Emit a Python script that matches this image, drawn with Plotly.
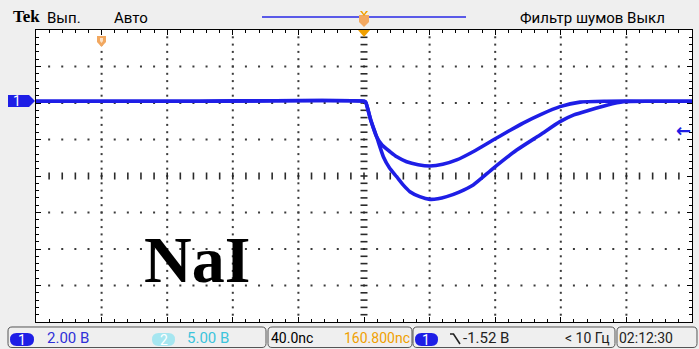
import plotly.graph_objects as go

# Scope settings
T_DIV = 40.0        # ns / div
V_DIV = 2.00        # V / div (channel 1)
TRIG_LEVEL = -1.52  # V
T_RANGE = [-200.0, 200.0]
V_RANGE = [-12.0, 4.0]

# Pulse A (smaller amplitude), time in ns from trigger, amplitude in V
t_pulse_a = [-200, -100, 0, 1, 4, 7.7, 11, 15.9, 20, 26, 33, 40.2, 48, 56.5, 66.5,
             78.7, 88, 97, 108, 119.5, 131.7, 148, 170, 200]
v_pulse_a = [0.1, 0.1, 0.1, 0.05, -0.9, -1.85, -2.3, -2.67, -2.95, -3.22, -3.38, -3.45,
             -3.36, -3.12, -2.67, -2.03, -1.55, -1.10, -0.62, -0.20, 0.05, 0.1, 0.1, 0.1]

# Pulse B (larger amplitude)
t_pulse_b = [-200, -100, 0, 1, 4, 7.7, 11.8, 15.5, 19.9, 24, 28, 34, 40.2, 45, 50.4,
             58, 66.6, 78.8, 93.1, 107.3, 119.5, 128, 137.8, 148, 158.1, 175, 200]
v_pulse_b = [0.1, 0.1, 0.1, 0.05, -0.9, -1.85, -2.94, -3.55, -4.04, -4.50, -4.86, -5.13,
             -5.28, -5.25, -5.13, -4.88, -4.49, -3.58, -2.58, -1.75, -1.02, -0.65, -0.38,
             -0.12, 0.07, 0.1, 0.1]

# Status bar readouts
ch1_scale = "2.00 В"
ch2_scale = "5.00 В"
time_scale = "40.0nс"
trig_pos = "160.800nс"
trig_level = "-1.52 В"
trig_freq = "< 10 Гц"
clock = "02:12:30"

W, H = 699, 349
L, R, T, B = 36, 692, 30, 322   # graticule box in pixels

BLUE = "#1e1ee6"
ORANGE = "#f0a000"
BG = "#efefef"
UI = "Roboto, sans-serif"


def px(x):
    return (x - L) / (R - L)


def py(y):
    return 1 - (y - T) / (B - T)


def path(points, close=True):
    s = "M " + " L ".join(f"{px(x):.5f},{py(y):.5f}" for x, y in points)
    return s + (" Z" if close else "")


def rrect(x0, y0, x1, y1, r):
    c = lambda x, y: f"{px(x):.5f},{py(y):.5f}"
    return (f"M {c(x0 + r, y0)} L {c(x1 - r, y0)} Q {c(x1, y0)} {c(x1, y0 + r)} "
            f"L {c(x1, y1 - r)} Q {c(x1, y1)} {c(x1 - r, y1)} L {c(x0 + r, y1)} "
            f"Q {c(x0, y1)} {c(x0, y1 - r)} L {c(x0, y0 + r)} Q {c(x0, y0)} {c(x0 + r, y0)} Z")


fig = go.Figure()

# Graticule: dotted division lines, dashed centre cross
x_minor = [T_RANGE[0] + i * T_DIV / 5 for i in range(1, 50)]
y_minor = [V_RANGE[0] + i * V_DIV / 5 for i in range(1, 40)]
x_major = [T_RANGE[0] + i * T_DIV for i in range(1, 10)]
y_major = [V_RANGE[0] + i * V_DIV for i in range(1, 8)]
x_c = (T_RANGE[0] + T_RANGE[1]) / 2
y_c = (V_RANGE[0] + V_RANGE[1]) / 2

dx, dy = [], []
for yv in y_major:
    if yv == y_c:
        continue
    for xv in x_minor:
        dx.append(xv); dy.append(yv)
for xv in x_major:
    if xv == x_c:
        continue
    for yv in y_minor:
        dx.append(xv); dy.append(yv)
fig.add_trace(go.Scatter(x=dx, y=dy, mode="markers", hoverinfo="skip",
                         marker=dict(symbol="square", size=2, color="#3a3a3a", line_width=0)))
fig.add_trace(go.Scatter(x=x_minor, y=[y_c] * len(x_minor), mode="markers", hoverinfo="skip",
                         marker=dict(symbol="line-ns", size=5, line=dict(width=1.6, color="#2a2a2a"))))
fig.add_trace(go.Scatter(x=[x_c] * len(y_minor), y=y_minor, mode="markers", hoverinfo="skip",
                         marker=dict(symbol="line-ew", size=5, line=dict(width=1.6, color="#2a2a2a"))))

# Signal traces
for tv, vv in ((t_pulse_a, v_pulse_a), (t_pulse_b, v_pulse_b)):
    fig.add_trace(go.Scatter(x=tv, y=vv, mode="lines", hoverinfo="skip",
                             line=dict(color=BLUE, width=3.6, shape="spline", smoothing=0.6)))

axis_common = dict(showticklabels=False, showgrid=False, zeroline=False, showline=True,
                   linecolor="black", linewidth=1, mirror="ticks", ticks="inside",
                   ticklen=5, tickcolor="black", tickwidth=1)
fig.update_xaxes(range=T_RANGE, tick0=0, dtick=T_DIV,
                 minor=dict(ticks="inside", ticklen=3, dtick=T_DIV / 5, tick0=0,
                            tickcolor="black", showgrid=False), **axis_common)
fig.update_yaxes(range=V_RANGE, tick0=0, dtick=V_DIV,
                 minor=dict(ticks="inside", ticklen=3, dtick=V_DIV / 5, tick0=0,
                            tickcolor="black", showgrid=False), **axis_common)

shapes = []
ann = []

# Top bar: record view and trigger markers
shapes.append(dict(type="line", xref="paper", yref="paper", x0=px(262), x1=px(466),
                   y0=py(17), y1=py(17), line=dict(color="#5a5ae8", width=2)))
shapes.append(dict(type="path", xref="paper", yref="paper",
                   path=path([(359, 15), (369, 15), (369, 22), (364, 27), (359, 22)]),
                   fillcolor="#f2a860", line=dict(width=0)))
shapes.append(dict(type="path", xref="paper", yref="paper",
                   path=path([(360, 11), (362, 11), (364, 14), (366, 11), (368, 11), (364, 16)]),
                   fillcolor=ORANGE, line=dict(width=0)))
shapes.append(dict(type="path", xref="paper", yref="paper",
                   path=path([(358, 30), (370, 30), (364, 37)]),
                   fillcolor=ORANGE, line=dict(width=0)))
shapes.append(dict(type="path", xref="paper", yref="paper",
                   path=path([(97, 36), (106, 36), (106, 42), (101.5, 47), (97, 42)]),
                   fillcolor="#f2a860", line=dict(width=0)))
shapes.append(dict(type="path", xref="paper", yref="paper",
                   path=path([(100, 38), (103, 38), (103, 41), (101.5, 43), (100, 41)]),
                   fillcolor="#fbe2c8", line=dict(width=0)))

# Channel 1 ground marker
shapes.append(dict(type="path", xref="paper", yref="paper",
                   path=path([(8, 95), (29, 95), (35, 101), (29, 107), (8, 107)]),
                   fillcolor=BLUE, line=dict(width=0)))
ann.append(dict(text="1", x=px(17), y=py(101), font=dict(color="white", size=14, family=UI)))

# Trigger level arrow at right edge
ann.append(dict(text="<b>←</b>", x=T_RANGE[1] - 5, y=TRIG_LEVEL, xref="x", yref="y",
                font=dict(color=BLUE, size=18, family="DejaVu Sans")))

# Top bar text
ann.append(dict(text="<b>Tek</b>", x=px(11), y=py(17), xanchor="left",
                font=dict(color="black", size=17, family="Liberation Serif")))
ann.append(dict(text="Вып.", x=px(45), y=py(18), xanchor="left",
                font=dict(color="black", size=15, family=UI)))
ann.append(dict(text="Авто", x=px(112), y=py(18), xanchor="left",
                font=dict(color="black", size=15, family=UI)))
ann.append(dict(text="Фильтр шумов Выкл", x=px(667), y=py(18), xanchor="right",
                font=dict(color="black", size=15, family=UI)))

# Sample label
ann.append(dict(text="<b>NaI</b>", x=-102, y=-8.55, xref="x", yref="y",
                font=dict(color="black", size=66, family="Liberation Serif")))

# Status bar boxes
for x0, x1 in ((8, 266), (268, 412), (413, 615), (617, 697)):
    shapes.append(dict(type="path", xref="paper", yref="paper",
                       path=rrect(x0, 327, x1, 347.5, 4),
                       fillcolor="rgba(0,0,0,0)", line=dict(color="#555555", width=1)))
for x0, x1, col in ((10, 34, BLUE), (152, 175, "#a6e6f0"), (415, 438, BLUE)):
    shapes.append(dict(type="path", xref="paper", yref="paper",
                       path=rrect(x0, 333, x1, 346, 6.5),
                       fillcolor=col, line=dict(width=0)))
ann.append(dict(text="1", x=px(22), y=py(339.5), font=dict(color="white", size=14, family=UI)))
ann.append(dict(text="2", x=px(163.5), y=py(339.5), font=dict(color="white", size=14, family=UI)))
ann.append(dict(text="1", x=px(426.5), y=py(339.5), font=dict(color="white", size=14, family=UI)))

ann.append(dict(text=ch1_scale, x=px(45), y=py(338), xanchor="left",
                font=dict(color="#2f2fd8", size=15, family=UI)))
ann.append(dict(text=ch2_scale, x=px(185), y=py(338), xanchor="left",
                font=dict(color="#3cc4dc", size=15, family=UI)))
ann.append(dict(text=time_scale, x=px(269), y=py(338), xanchor="left",
                font=dict(color="black", size=14, family=UI)))
ann.append(dict(text=trig_pos, x=px(412), y=py(338), xanchor="right",
                font=dict(color=ORANGE, size=14, family=UI)))
shapes.append(dict(type="path", xref="paper", yref="paper",
                   path=path([(450, 334), (453.5, 334), (460, 344)], close=False),
                   line=dict(color="#222222", width=1.6)))
ann.append(dict(text=trig_level, x=px(461), y=py(338), xanchor="left",
                font=dict(color="#222222", size=15, family=UI)))
ann.append(dict(text=trig_freq, x=px(563), y=py(338), xanchor="left",
                font=dict(color="#222222", size=14, family=UI)))
ann.append(dict(text=clock, x=px(617), y=py(338), xanchor="left",
                font=dict(color="#222222", size=14, family=UI)))

for a in ann:
    a.setdefault("xref", "paper")
    a.setdefault("yref", "paper")
    a.setdefault("xanchor", "center")
    a.setdefault("yanchor", "middle")
    a["showarrow"] = False

fig.update_layout(width=W, height=H, margin=dict(l=L, r=W - R, t=T, b=H - B),
                  paper_bgcolor=BG, plot_bgcolor="white", showlegend=False,
                  shapes=shapes, annotations=ann)

fig.write_html("out.html")
